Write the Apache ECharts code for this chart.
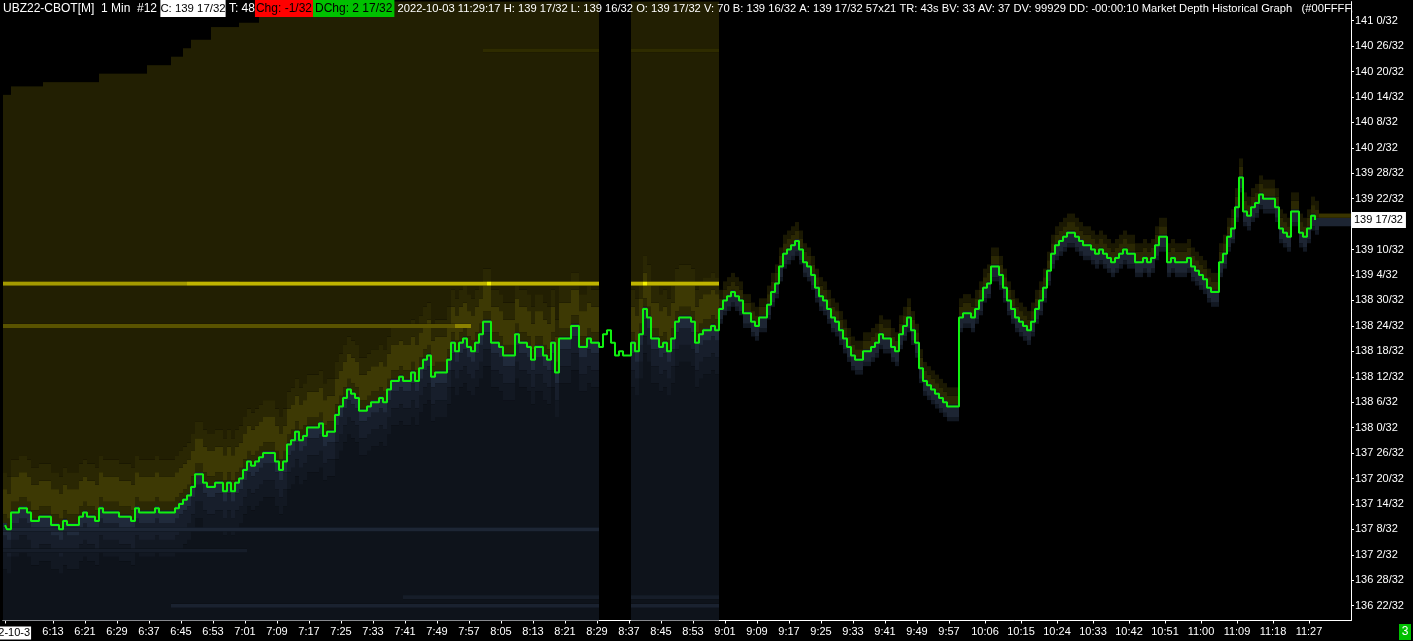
<!DOCTYPE html>
<html><head><meta charset="utf-8">
<script src="https://cdn.jsdelivr.net/npm/echarts@6/dist/echarts.min.js"></script>
<style>html,body{margin:0;padding:0;background:#000;}#c{width:1413px;height:641px;}</style>
</head><body><div id="c"></div>
<script>
// ---- data (prices in 32nds: 139 17/32 = 139*32+17 = 4465) ----
const firstBarTime = [6, 1];           // 6:01, one bar per minute
const barCount = 337;                   // categories on the x axis (6:01 .. 11:37)
const dateLabel = '2022-10-3';
const xTickLabels = ['6:13','6:21','6:29','6:37','6:45','6:53','7:01','7:09','7:17','7:25','7:33','7:41','7:49','7:57',
  '8:05','8:13','8:21','8:29','8:37','8:45','8:53','9:01','9:09','9:17','9:25','9:33','9:41','9:49','9:57',
  '10:06','10:15','10:24','10:33','10:42','10:51','11:00','11:09','11:18','11:27'];
const yTickValues = [4374,4380,4386,4392,4398,4404,4410,4416,4422,4428,4434,4440,4446,4452,4458,4464,4470,4476,4482,4488,4494,4500,4506,4512];
const lastPrice = 4465;
const priceClose = [
 4393,4392,4396,4396,4397,4397,4396,4394,4394,4395,4395,4395,4393,4393,4392,4394,4393,4393,4393,4395,
 4396,4395,4395,4394,4397,4396,4396,4396,4396,4395,4395,4395,4394,4397,4396,4396,4396,4396,4397,4396,
 4396,4396,4396,4397,4398,4399,4400,4402,4405,4405,4403,4402,4402,4403,4403,4401,4403,4401,4403,4404,
 4406,4408,4407,4408,4409,4410,4410,4410,4408,4406,4408,4412,4413,4415,4413,4414,4416,4416,4416,4417,
 4414,4415,4415,4419,4421,4423,4425,4424,4423,4420,4420,4421,4422,4422,4423,4422,4425,4427,4427,4428,
 4427,4427,4429,4427,4430,4432,4433,4428,4429,4429,4429,4432,4436,4434,4436,4437,4435,4434,4436,4438,
 4441,4441,4436,4436,4435,4433,4433,4433,4438,4436,4436,4435,4432,4435,4435,4433,4432,4436,4429,4437,
 4437,4437,4440,4440,4435,4435,4437,4436,4436,4435,4438,4439,4436,4433,4434,4433,4433,4436,4434,4438,
 4444,4442,4437,4437,4435,4436,4434,4437,4441,4442,4442,4442,4441,4436,4438,4439,4439,4440,4439,4444,
 4446,4447,4448,4447,4446,4443,4443,4441,4440,4442,4442,4445,4448,4450,4454,4457,4458,4459,4460,4458,
 4455,4454,4452,4449,4447,4446,4444,4442,4441,4439,4437,4435,4433,4432,4432,4434,4434,4435,4436,4438,
 4437,4437,4435,4434,4438,4440,4442,4439,4436,4430,4427,4426,4425,4424,4423,4422,4421,4421,4421,4442,
 4443,4443,4442,4444,4446,4449,4450,4454,4454,4452,4449,4446,4444,4442,4441,4440,4439,4441,4444,4446,
 4449,4453,4457,4459,4460,4461,4462,4462,4461,4460,4459,4459,4458,4457,4458,4457,4456,4455,4456,4457,
 4458,4457,4457,4455,4455,4456,4455,4456,4459,4461,4461,4455,4456,4455,4455,4455,4456,4454,4453,4452,
 4451,4449,4448,4448,4455,4457,4461,4463,4468,4475,4467,4466,4468,4469,4471,4470,4470,4470,4468,4463,
 4462,4461,4467,4467,4462,4461,4463,4466,4465
];
// depth-history extent (bar indexes)
const depthEndBar = 178;
const depthGap = [149, 156];
// upper edge of recorded ask depth: [from bar, top tick]
const askTopSteps = [[0,4494],[2,4496],[10,4497],[24,4499],[36,4501],[42,4503],[45,4505],[47,4507],[52,4510],[59,4511],[64,4513],[67,4515],[71,4517]];
// resting order levels: [tick, from bar, to bar, colour]
const askLevels = [[4450,0,45,'#a49a00'],[4450,46,178,'#c0b400'],[4440,0,112,'#5a5300'],[4440,113,116,'#8c8200'],[4505,120,178,'#2f2c00']];
const askSpots = [[4450,121,'#f4f000'],[4450,160,'#f4f000']];
const bidLevels = [[4392,0,148,'#1d2635'],[4387,0,60,'#161d29'],[4374,42,178,'#1a2230'],[4376,100,178,'#161d29']];

// ---- styling ----
const askBase = '#221f02', bidBase = '#0e131b';
const askBands = [[1,2,'#2c2903'],[3,8,'#3d3904'],[9,12,'#2a2703']];
const bidBands = [[0,2,'#202a3b'],[3,6,'#171e2b'],[7,10,'#121822']];
const thinAskBands = [[1,2,'#2b2803'],[3,4,'#1a1802']];
const thinBidBands = [[0,2,'#1d2533'],[3,3,'#121822']];
const tailRows = [[4466,'#3a3500'],[4465,'#1d2533'],[4464,'#1d2533']];
const tMin = 4371, tMax = 4516;

const categories = [];
for (let i = 0; i < barCount; i++) {
  const tot = firstBarTime[0]*60 + firstBarTime[1] + i;
  categories.push(Math.floor(tot/60) + ':' + String(tot%60).padStart(2,'0'));
}
const shownIdx = new Set([0]);
xTickLabels.forEach(l => { const k = categories.indexOf(l); if (k >= 0) shownIdx.add(k); });

const palette = [];
function ci(c){ let i = palette.indexOf(c); if (i < 0) { palette.push(c); i = palette.length-1; } return i; }
function askTopAt(m){ let top = askTopSteps[0][1]; for (const [b,t] of askTopSteps) if (m >= b) top = t; return top; }
function band(bands, d){ for (const [a,b,c] of bands) if (d >= a && d <= b) return c; return null; }

const cells = [];
for (let m = 0; m < barCount; m++) {
  const P = m < priceClose.length ? priceClose[m] : null;
  const col = new Array(tMax - tMin + 1).fill(null);
  const inGap = m >= depthGap[0] && m <= depthGap[1];
  if (m <= depthEndBar && !inGap) {
    const top = askTopAt(m);
    for (let t = tMin; t <= tMax; t++) {
      if (t > top) continue;
      col[t-tMin] = t > P ? (band(askBands, t-P) || askBase) : (band(bidBands, P-t) || bidBase);
    }
    for (const [t,a,b,c] of askLevels.concat(bidLevels)) if (m >= a && m <= b && t <= top) col[t-tMin] = c;
    for (const [t,b,c] of askSpots) if (m === b) col[t-tMin] = c;
  } else if (!inGap && P !== null) {
    for (let t = tMin; t <= tMax; t++) {
      const c = t > P ? band(thinAskBands, t-P) : band(thinBidBands, P-t);
      if (c) col[t-tMin] = c;
    }
  } else if (P === null) {
    for (const [t,c] of tailRows) col[t-tMin] = c;
  }
  let k = 0;
  while (k < col.length) {
    if (!col[k]) { k++; continue; }
    let e = k; while (e+1 < col.length && col[e+1] === col[k]) e++;
    cells.push([m, k+tMin, e+tMin, ci(col[k])]);
    k = e+1;
  }
}

function fmt32(v){ return Math.floor(v/32) + ' ' + (v%32) + '/32'; }

const FONT = 'Liberation Sans';
const rs = (o) => Object.assign({fontFamily: FONT, fontSize: 12, fontWeight: 'normal', height: 17, lineHeight: 17}, o);
const chart = echarts.init(document.getElementById('c'));
chart.setOption({
  backgroundColor: '#000',
  animation: false,
  title: {
    left: 3, top: 0, padding: 0,
    text: '{w|UBZ22-CBOT[M]  1 Min  #12 }{c|C: 139 17/32}{w| T: 48}{r|Chg: -1/32}{g|DChg: 2 17/32}{v| 2022-10-03 11:29:17 H: 139 17/32 L: 139 16/32 O: 139 17/32 V: 70 B: 139 16/32 A: 139 17/32 57x21 TR: 43s BV: 33 AV: 37 DV: 99929 DD: -00:00:10 Market Depth Historical Graph   (#00FFFF, }',
    textStyle: {
      fontFamily: FONT, fontSize: 12, fontWeight: 'normal',
      rich: {
        w: rs({color:'#fff'}),
        v: rs({color:'#fff', fontSize: 11.2}),
        c: rs({color:'#000', backgroundColor:'#fff', fontSize: 11.4}),
        r: rs({color:'#000', backgroundColor:'#ff0000', padding: [0, 1]}),
        g: rs({color:'#000', backgroundColor:'#00c000', padding: [0, 2]})
      }
    }
  },
  grid: {left: 3, right: 62, top: 1.6, bottom: 20.5, containLabel: false, outerBoundsMode: 'none'},
  xAxis: {
    type: 'category', data: categories, boundaryGap: true,
    axisLine: {show: true, lineStyle: {color: '#fff', width: 1}},
    axisTick: {show: true, alignWithLabel: true, length: 3, lineStyle: {color: '#fff'},
      interval: (i) => shownIdx.has(i)},
    axisLabel: {color: '#fff', fontFamily: FONT, fontSize: 11, margin: 6, hideOverlap: false,
      interval: (i) => shownIdx.has(i),
      formatter: (v, i) => i === 0 ? '{d|' + dateLabel + '}' : v,
      rich: {d: {color: '#000', backgroundColor: '#fff', fontFamily: FONT, fontSize: 11, padding: [1,1,1,1]}}},
    splitLine: {show: false}
  },
  yAxis: [{
    type: 'value', position: 'right', min: tMin - 0.5, max: tMax + 0.5, scale: true,
    axisLine: {show: true, lineStyle: {color: '#fff', width: 1}},
    axisTick: {show: true, length: 3, lineStyle: {color: '#fff'}, customValues: yTickValues},
    axisLabel: {color: '#fff', fontFamily: FONT, fontSize: 11, margin: 4, customValues: yTickValues, formatter: fmt32},
    splitLine: {show: false}
  }, {
    type: 'value', position: 'right', offset: 0, min: tMin - 0.5, max: tMax + 0.5, scale: true,
    axisLine: {show: false}, axisTick: {show: false}, splitLine: {show: false},
    axisLabel: {customValues: [lastPrice], formatter: fmt32, color: '#000', backgroundColor: '#fff',
      fontFamily: FONT, fontSize: 11, margin: 0, padding: [3, 3, 2, 3]}
  }],
  series: [{
    type: 'custom', silent: true, clip: true, z: 1,
    data: cells, encode: {x: 0, y: [1, 2]},
    renderItem: function (params, api) {
      const m = api.value(0), lo = api.value(1), hi = api.value(2), c = api.value(3);
      const p0 = api.coord([m, hi + 0.5]);
      const p1 = api.coord([m, lo - 0.5]);
      const w = api.size([1, 0])[0];
      return {type: 'rect', shape: {x: p0[0] - w/2, y: p0[1], width: w, height: p1[1] - p0[1]},
        style: {fill: palette[c]}};
    }
  }, {
    type: 'line', data: priceClose, step: 'middle', symbol: 'none', z: 5, yAxisIndex: 0,
    lineStyle: {color: '#10f010', width: 2}, silent: true
  }],
  graphic: [{
    type: 'group', right: 2, bottom: 1, children: [
      {type: 'rect', shape: {x: 0, y: 0, width: 12, height: 16}, style: {fill: '#00c000'}},
      {type: 'text', x: 6, y: 8, style: {text: '3', fill: '#fff', font: '12px Liberation Sans', align: 'center', verticalAlign: 'middle'}}
    ]
  }]
});
</script></body></html>
